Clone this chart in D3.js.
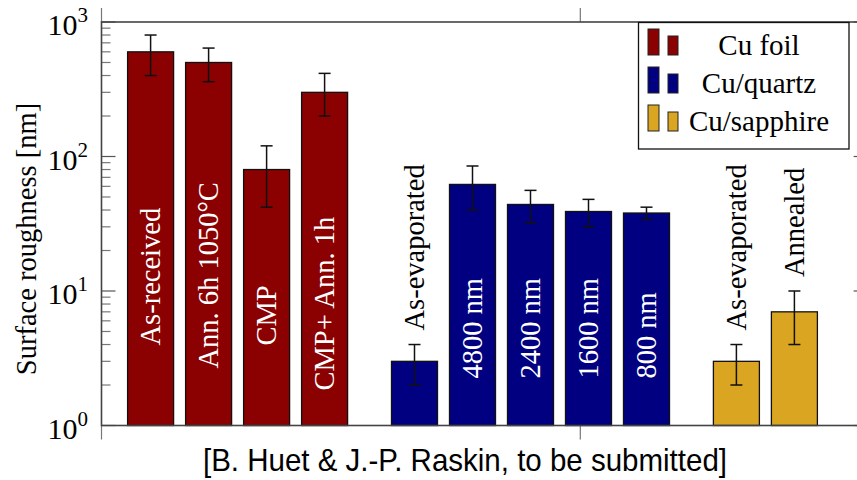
<!DOCTYPE html>
<html>
<head>
<meta charset="utf-8">
<script src="https://cdn.jsdelivr.net/npm/d3@7"></script>
<style>
  body { margin: 0; background: #fff; }
  text { font-family: "Liberation Serif", serif; }
</style>
</head>
<body>
<div id="chart"></div>
<script>
// chart data
var barLabels = ["As-received", "Ann. 6h 1050°C", "CMP", "CMP+ Ann. 1h",
  "As-evaporated", "4800 nm", "2400 nm", "1600 nm", "800 nm",
  "As-evaporated", "Annealed"];
var barSeries = [0, 0, 0, 0, 1, 1, 1, 1, 1, 2, 2];
var roughness = [600, 500, 80, 300, 3, 62, 44, 39, 38, 3, 7];
var errLow = [400, 360, 42, 200, 2, 40, 32, 30, 34, 2, 4];
var errHigh = [800, 640, 120, 415, 4, 85, 56, 48, 42, 4, 10];
var seriesNames = ["Cu foil", "Cu/quartz", "Cu/sapphire"];
var yTickValues = [1, 10, 100, 1000];
var xTickValues = [0, 10];
var caption = "[B. Huet & J.-P. Raskin, to be submitted]";

var seriesColors = ["#8b0000", "#000080", "#daa520"];

// Part 1: chart parameters
var svgWidth = 857;
var svgHeight = 480;

var plot = { left: 101.5, right: 867.6, top: 22, bottom: 425.5 };

var svg = d3.select("#chart")
  .append("svg")
  .attr("width", svgWidth)
  .attr("height", svgHeight);

// scales
var yScale = d3.scaleLog()
  .domain([1, 1000])
  .range([plot.bottom, plot.top]);

var xAxisScale = d3.scaleLinear()
  .domain([0, 16])
  .range([plot.left, plot.right]);

// bar slots: one per bar, with a wider gap between the series
var groupGap = 0.55;
var slotScale = d3.scaleLinear()
  .domain([0, 1])
  .range([150.6, 208.6]);
var barWidth = 46;

// how far above the x axis each inside label starts (px)
var labelLift = [80, 57, 80, 35, 0, 47, 47, 47, 47, 0, 0];

var bars = roughness.map(function(v, i) {
  return {
    label: barLabels[i],
    series: barSeries[i],
    value: v,
    low: errLow[i],
    high: errHigh[i],
    lift: labelLift[i],
    cx: slotScale(i + groupGap * barSeries[i])
  };
});

// Part 2: axes (log y with minor ticks, both sides)
var frameColor = "#444";
var minorTicks = [];
yTickValues.slice(0, -1).forEach(function(t) {
  for (var k = 2; k < 10; k++) minorTicks.push(t * k);
});

var axisG = svg.append("g");

[plot.left, plot.right].forEach(function(xPos, side) {
  var dir = side === 0 ? 1 : -1;
  axisG.selectAll(null)
    .data(minorTicks)
    .enter()
    .append("line")
    .attr("x1", xPos)
    .attr("x2", xPos + dir * 9)
    .attr("y1", d => yScale(d))
    .attr("y2", d => yScale(d))
    .attr("stroke", "#777")
    .attr("stroke-width", 1.2);
  axisG.selectAll(null)
    .data(yTickValues)
    .enter()
    .append("line")
    .attr("x1", xPos)
    .attr("x2", xPos + dir * 14)
    .attr("y1", d => yScale(d))
    .attr("y2", d => yScale(d))
    .attr("stroke", "#555")
    .attr("stroke-width", 1.2);
});

// x ticks stick out of the frame, top and bottom
axisG.selectAll(null)
  .data(xTickValues)
  .enter()
  .append("g")
  .each(function(d) {
    var g = d3.select(this);
    var x = xAxisScale(d);
    g.append("line").attr("x1", x).attr("x2", x)
      .attr("y1", plot.bottom).attr("y2", plot.bottom + 14);
    g.append("line").attr("x1", x).attr("x2", x)
      .attr("y1", plot.top).attr("y2", plot.top - 14);
  })
  .selectAll("line")
  .attr("stroke", "#777")
  .attr("stroke-width", 1.2);

// y tick labels as 10^n
var yLabels = axisG.selectAll(".ylab")
  .data(yTickValues)
  .enter()
  .append("text")
  .attr("class", "ylab")
  .attr("x", 88)
  .attr("y", d => yScale(d) + 13)
  .attr("text-anchor", "end")
  .attr("font-size", 30);
yLabels.append("tspan").text("10");
yLabels.append("tspan")
  .attr("dy", -13)
  .attr("font-size", 21)
  .text(d => Math.round(Math.log10(d)));

// y axis title
svg.append("text")
  .attr("transform", "translate(36, 239) rotate(-90)")
  .attr("text-anchor", "middle")
  .attr("font-size", 28.5)
  .text("Surface roughness [nm]");

// Part 3: bars
var barG = svg.append("g");

barG.selectAll("rect")
  .data(bars)
  .enter()
  .append("rect")
  .attr("x", d => d.cx - barWidth / 2)
  .attr("y", d => yScale(d.value))
  .attr("width", barWidth)
  .attr("height", d => plot.bottom - yScale(d.value))
  .attr("fill", d => seriesColors[d.series])
  .attr("stroke", "#111")
  .attr("stroke-width", 1.3);

// error bars
var errG = barG.selectAll(".err")
  .data(bars)
  .enter()
  .append("g")
  .attr("class", "err")
  .attr("stroke", "#111")
  .attr("stroke-width", 1.5);
errG.append("line")
  .attr("x1", d => d.cx).attr("x2", d => d.cx)
  .attr("y1", d => yScale(d.low)).attr("y2", d => yScale(d.high));
errG.append("line")
  .attr("x1", d => d.cx - 6).attr("x2", d => d.cx + 6)
  .attr("y1", d => yScale(d.low)).attr("y2", d => yScale(d.low));
errG.append("line")
  .attr("x1", d => d.cx - 6).attr("x2", d => d.cx + 6)
  .attr("y1", d => yScale(d.high)).attr("y2", d => yScale(d.high));

// bar labels: inside (white) for tall bars, above the error bar otherwise
var labelSize = 28.5;
barG.selectAll(".blab")
  .data(bars)
  .enter()
  .append("text")
  .attr("class", "blab")
  .attr("transform", function(d) {
    var inside = d.value > 20;
    var y = inside ? plot.bottom - d.lift : yScale(d.high) - 14;
    return "translate(" + d.cx + "," + y + ") rotate(-90)";
  })
  .attr("dy", "0.33em")
  .attr("font-size", labelSize)
  .attr("fill", d => d.value > 20 ? "#fff" : "#000")
  .text(d => d.label);

// Part 4: frame
svg.append("rect")
  .attr("x", plot.left)
  .attr("y", plot.top)
  .attr("width", plot.right - plot.left)
  .attr("height", plot.bottom - plot.top)
  .attr("fill", "none")
  .attr("stroke", frameColor)
  .attr("stroke-width", 1.6);

// Part 5: legend
var legend = svg.append("g");
legend.append("rect")
  .attr("x", 638.5)
  .attr("y", 22.5)
  .attr("width", 210.5)
  .attr("height", 126.5)
  .attr("fill", "#fff")
  .attr("stroke", "#111")
  .attr("stroke-width", 1.3);

var rowH = 38;
var entries = legend.selectAll(".entry")
  .data(seriesNames)
  .enter()
  .append("g")
  .attr("class", "entry")
  .attr("transform", (d, i) => "translate(0," + (55 + i * rowH) + ")");
entries.append("rect")
  .attr("x", 648).attr("y", -26).attr("width", 11).attr("height", 26)
  .attr("fill", (d, i) => seriesColors[i])
  .attr("stroke", "#222").attr("stroke-width", 1);
entries.append("rect")
  .attr("x", 668).attr("y", -19).attr("width", 10).attr("height", 19)
  .attr("fill", (d, i) => seriesColors[i])
  .attr("stroke", "#222").attr("stroke-width", 1);
entries.append("text")
  .attr("x", 759)
  .attr("y", 0)
  .attr("text-anchor", "middle")
  .attr("font-size", 29)
  .text(d => d);

// caption under the chart
svg.append("text")
  .attr("x", 465)
  .attr("y", 471)
  .attr("text-anchor", "middle")
  .style("font-family", "'Liberation Sans Narrow', 'Liberation Sans', Arial, sans-serif")
  .attr("font-size", 32)
  .attr("textLength", 524)
  .attr("lengthAdjust", "spacingAndGlyphs")
  .text(caption);
</script>
</body>
</html>
